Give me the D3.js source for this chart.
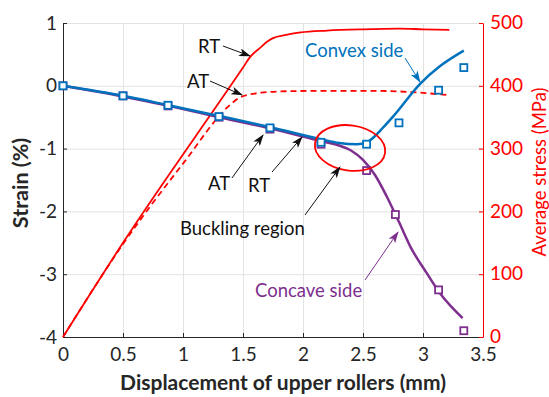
<!DOCTYPE html>
<html>
<head>
<meta charset="utf-8">
<script src="https://cdn.jsdelivr.net/npm/d3@7"></script>
<style>
  body { margin: 0; background: #fff; }
  svg { font-family: Lato, "Open Sans", sans-serif; }
</style>
</head>
<body>
<div id="chart"></div>
<script>
// Strain curves (left axis, %)
const convexLineX = [0, 0.5, 0.88, 1.3, 1.73, 2.15, 2.3, 2.45, 2.53, 2.6, 2.66, 2.75, 2.98, 3.14, 3.34];
const convexLineY = [0, -0.16, -0.31, -0.48, -0.66, -0.85, -0.91, -0.93, -0.9, -0.8, -0.68, -0.49, 0.04, 0.31, 0.56];
const concaveLineX = [0, 0.5, 0.88, 1.3, 1.73, 2.15, 2.3, 2.4, 2.5, 2.6, 2.7, 2.8, 2.9, 3.03, 3.14, 3.33];
const concaveLineY = [0, -0.17, -0.32, -0.5, -0.68, -0.88, -0.95, -1.03, -1.18, -1.42, -1.77, -2.17, -2.58, -2.98, -3.3, -3.7];

// Measured points
const convexPtX = [0, 0.5, 0.875, 1.3, 1.725, 2.15, 2.53, 2.8, 3.13, 3.34];
const convexPtY = [0, -0.16, -0.31, -0.49, -0.67, -0.9, -0.93, -0.59, -0.07, 0.29];
const concavePtX = [0, 0.5, 0.875, 1.3, 1.725, 2.15, 2.53, 2.77, 3.13, 3.34];
const concavePtY = [0, -0.16, -0.32, -0.5, -0.69, -0.93, -1.35, -2.05, -3.25, -3.9];

// Average stress (right axis, MPa)
const rtX = [0, 0.5, 1.5, 1.56, 1.64, 1.7, 1.75, 1.86, 1.98, 2.2, 2.5, 2.8, 3.0, 3.22];
const rtY = [0, 150, 429, 446, 460, 470, 476, 481, 485, 488, 490, 491, 490, 489];
const atX = [0, 0.5, 1.0, 1.4, 1.47, 1.55, 1.65, 1.8, 2.2, 2.6, 2.9, 3.22];
const atY = [0, 148, 276, 371, 381, 386, 389, 391, 392, 392, 390, 385];

const xTicks = [0, 0.5, 1, 1.5, 2, 2.5, 3, 3.5];
const yTicks = [-4, -3, -2, -1, 0, 1];
const y2Ticks = [0, 100, 200, 300, 400, 500];

const blue = "#0072BD", purple = "#7E2F8E", red = "#ff0000";

const W = 549, H = 397;
const m = { top: 23, right: 66, bottom: 60, left: 63 };
const iw = W - m.left - m.right, ih = H - m.top - m.bottom;

const svg = d3.select("#chart").append("svg").attr("width", W).attr("height", H);
const g = svg.append("g").attr("transform", `translate(${m.left},${m.top})`);

const x = d3.scaleLinear().domain([0, 3.5]).range([0, iw]);
const y = d3.scaleLinear().domain([-4, 1]).range([ih, 0]);
const y2 = d3.scaleLinear().domain([0, 500]).range([ih, 0]);

// grid
g.append("g").attr("transform", `translate(0,${ih})`)
  .call(d3.axisBottom(x).tickValues(xTicks).tickSize(-ih).tickFormat(""))
  .call(a => a.select(".domain").remove())
  .selectAll("line").attr("stroke", "#e3e3e3");
g.append("g")
  .call(d3.axisLeft(y).tickValues(yTicks).tickSize(-iw).tickFormat(""))
  .call(a => a.select(".domain").remove())
  .selectAll("line").attr("stroke", "#e3e3e3");

// axes
const fmt = d => String(d);
const xAxis = g.append("g").attr("transform", `translate(0,${ih})`)
  .call(d3.axisBottom(x).tickValues(xTicks).tickSize(-4).tickPadding(12).tickSizeOuter(0).tickFormat(fmt));
const yAxis = g.append("g")
  .call(d3.axisLeft(y).tickValues(yTicks).tickSize(-4).tickPadding(6).tickSizeOuter(0).tickFormat(fmt));
const y2Axis = g.append("g").attr("transform", `translate(${iw},0)`)
  .call(d3.axisRight(y2).tickValues(y2Ticks).tickSize(-4).tickPadding(7).tickSizeOuter(0).tickFormat(fmt));
[xAxis, yAxis].forEach(a => {
  a.selectAll("text").attr("font-size", 19).attr("fill", "#262626").attr("font-family", "Lato");
  a.selectAll("line, .domain").attr("stroke", "#262626");
});
xAxis.selectAll("text").attr("dy", "0.62em");
y2Axis.selectAll("text").attr("font-size", 19).attr("fill", red).attr("font-family", "Lato").attr("dy", "0.3em");
y2Axis.selectAll("line, .domain").attr("stroke", red);

// axis titles
svg.append("text").attr("x", m.left + iw / 2 + 10).attr("y", 390)
  .attr("text-anchor", "middle").attr("font-weight", "bold").attr("font-size", 21)
  .attr("fill", "#262626").text("Displacement of upper rollers (mm)");
svg.append("text").attr("transform", `translate(28,183) rotate(-90)`)
  .attr("text-anchor", "middle").attr("font-weight", "bold").attr("font-size", 21.5)
  .attr("fill", "#262626").text("Strain (%)");
svg.append("text").attr("transform", `translate(546,172) rotate(-90)`)
  .attr("text-anchor", "middle").attr("font-size", 18.5)
  .attr("fill", red).text("Average stress (MPa)");

const zip = (xs, ys) => xs.map((d, i) => [d, ys[i]]);
const line = d3.line().x(d => x(d[0])).y(d => y(d[1])).curve(d3.curveMonotoneX);
const line2 = d3.line().x(d => x(d[0])).y(d => y2(d[1])).curve(d3.curveMonotoneX);

// stress curves
g.append("path").datum(zip(rtX, rtY)).attr("d", line2)
  .attr("fill", "none").attr("stroke", red).attr("stroke-width", 1.8);
g.append("path").datum(zip(atX, atY)).attr("d", line2)
  .attr("fill", "none").attr("stroke", red).attr("stroke-width", 1.8).attr("stroke-dasharray", "6,4");

// strain curves
g.append("path").datum(zip(concaveLineX, concaveLineY)).attr("d", line)
  .attr("fill", "none").attr("stroke", purple).attr("stroke-width", 2.5);
g.append("path").datum(zip(convexLineX, convexLineY)).attr("d", line)
  .attr("fill", "none").attr("stroke", blue).attr("stroke-width", 2.5);

function squares(xs, ys, color) {
  g.append("g").selectAll("rect").data(zip(xs, ys)).join("rect")
    .attr("x", d => x(d[0]) - 3.5).attr("y", d => y(d[1]) - 3.5)
    .attr("width", 7).attr("height", 7)
    .attr("fill", "#fff").attr("stroke", color).attr("stroke-width", 1.8);
}
squares(concavePtX, concavePtY, purple);
squares(convexPtX, convexPtY, blue);

// buckling ellipse
g.append("ellipse")
  .attr("cx", x(2.392)).attr("cy", y(-0.99))
  .attr("rx", x(0.295) - x(0)).attr("ry", y(0) - y(0.36))
  .attr("transform", `rotate(8,${x(2.392)},${y(-0.99)})`)
  .attr("fill", "none").attr("stroke", red).attr("stroke-width", 1.8);

// arrow heads
const defs = svg.append("defs");
[["blk", "#111"], ["blu", blue], ["pur", purple]].forEach(([id, c]) => {
  defs.append("marker").attr("id", id).attr("viewBox", "0 0 12 8")
    .attr("refX", 11).attr("refY", 4).attr("markerWidth", 12).attr("markerHeight", 8)
    .attr("markerUnits", "userSpaceOnUse").attr("orient", "auto")
    .append("path").attr("d", "M0,0 L12,4 L0,8 L3,4 Z").attr("fill", c);
});

const notes = [
  { t: "RT", tx: 1.125, ty: 0.522, x1: 1.333, y1: 0.634, x2: 1.558, y2: 0.475, c: "#111", mk: "blk" },
  { t: "AT", tx: 1.033, ty: -0.035, x1: 1.225, y1: 0.076, x2: 1.492, y2: -0.146, c: "#111", mk: "blk" },
  { t: "AT", tx: 1.208, ty: -1.659, x1: 1.408, y1: -1.468, x2: 1.667, y2: -0.783, c: "#111", mk: "blk" },
  { t: "RT", tx: 1.542, ty: -1.691, x1: 1.742, y1: -1.373, x2: 1.992, y2: -0.815, c: "#111", mk: "blk" },
  { t: "Buckling region", tx: 0.975, ty: -2.376, x1: 2.017, y1: -2.057, x2: 2.308, y2: -1.293, c: "#111", mk: "blk" },
  { t: "Concave side", tx: 1.6, ty: -3.363, x1: 2.517, y1: -3.092, x2: 2.792, y2: -2.328, c: purple, mk: "pur" },
  { t: "Convex side", tx: 2.017, ty: 0.459, x1: 2.85, y1: 0.443, x2: 2.975, y2: 0.061, c: blue, mk: "blu" }
];
notes.forEach(n => {
  g.append("text").attr("x", x(n.tx)).attr("y", y(n.ty))
    .attr("font-size", 18.5).attr("fill", n.c).text(n.t);
  g.append("line").attr("x1", x(n.x1)).attr("y1", y(n.y1)).attr("x2", x(n.x2)).attr("y2", y(n.y2))
    .attr("stroke", n.c).attr("stroke-width", 1).attr("marker-end", `url(#${n.mk})`);
});
</script>
</body>
</html>
